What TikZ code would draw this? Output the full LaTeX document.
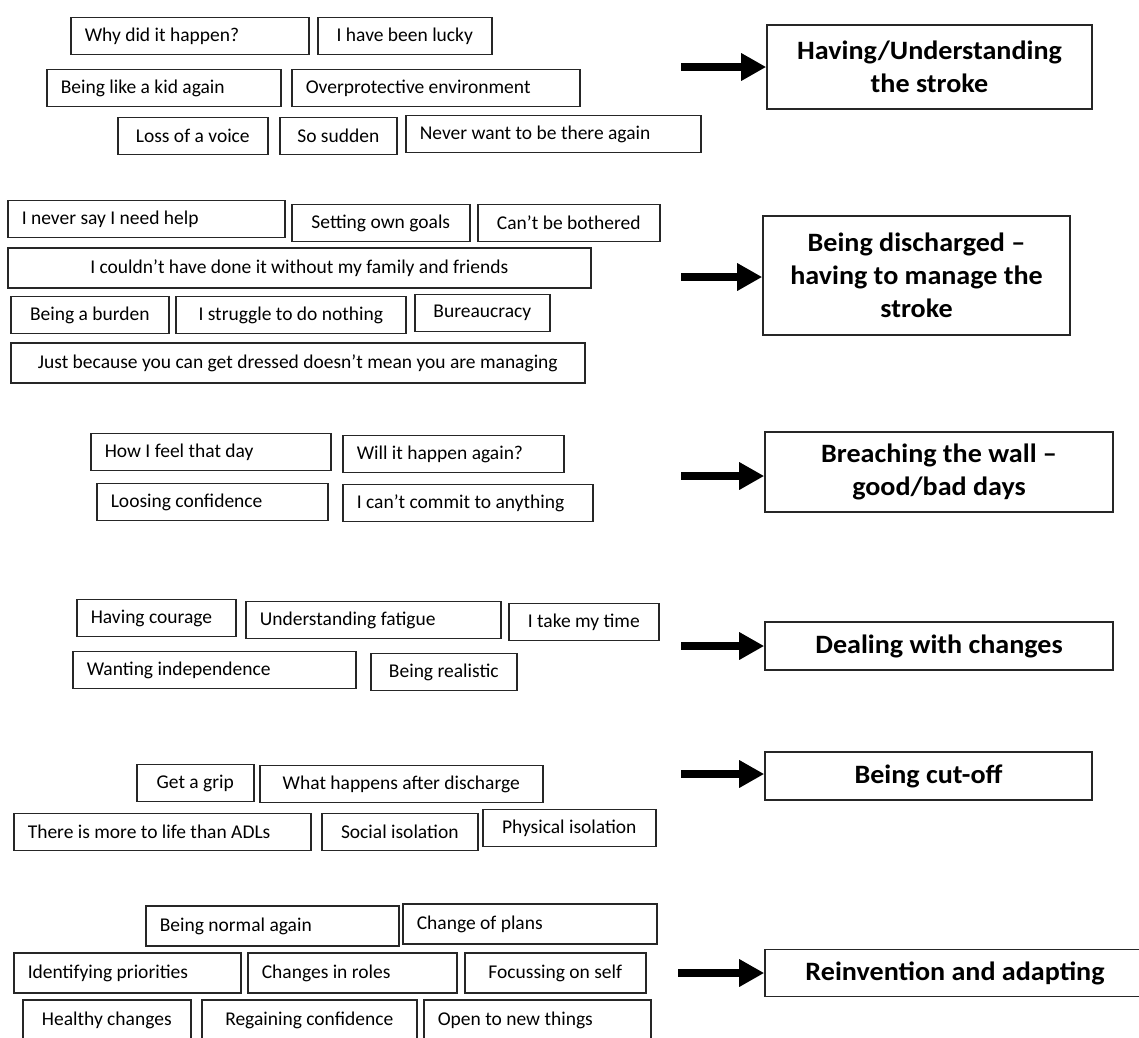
\documentclass[tikz,border=0pt]{standalone}
\usepackage{fontspec}
\setmainfont{Carlito}
\newfontfamily\themefont[FakeStretch=1.06]{Carlito}
\usetikzlibrary{arrows.meta}

\begin{document}
\begin{tikzpicture}[x=1pt,y=-1pt,
    item/.style={draw=black!85, line width=1.6pt, anchor=west, minimum height=37pt, inner xsep=14pt, inner ysep=0pt, align=flush left, font=\fontsize{19.5}{23}\selectfont},
    theme/.style={draw=black!85, line width=1.6pt, align=center, inner sep=0pt, font=\themefont\fontsize{26.5}{33}\selectfont\bfseries},
    push/.style={line width=8pt, -{Triangle[length=25pt,width=26pt]}}]
      \useasboundingbox (0,0) rectangle (1139,1037);

      \node[item, text width=210] (why) at (70,36) {Why did it happen?};
      \node[item, minimum width=174] (lucky) at (317,36) {I have been lucky};
      \node[item, text width=206] (kid) at (46,88) {Being like a kid again};
      \node[item, text width=260] (overprot) at (291,88) {Overprotective environment};
      \node[item, minimum width=150] (voice) at (117,136) {Loss of a voice};
      \node[item, minimum width=117] (sudden) at (279,136) {So sudden};
      \node[item, text width=267] (never) at (405,134) {Never want to be there again};
      \node[theme, minimum width=325, minimum height=84] (t1) at (929.5,67) {Having/Understanding\\the stroke};

      \node[item, text width=249] (help) at (7,219) {I never say I need help};
      \node[item, minimum width=178] (goals) at (291,223) {Setting own goals};
      \node[item, minimum width=182] (bothered) at (477,223) {Can’t be bothered};
      \node[item, minimum width=583, minimum height=40] (family) at (7,268) {I couldn’t have done it without my family and friends};
      \node[item, minimum width=158] (burden) at (10,315) {Being a burden};
      \node[item, minimum width=230] (struggle) at (175,315) {I struggle to do nothing};
      \node[item, minimum width=135] (bureau) at (414,313) {Bureaucracy};
      \node[item, minimum width=574, minimum height=40] (dressed) at (10,363) {Just because you can get dressed doesn’t mean you are managing};
      \node[theme, minimum width=307, minimum height=119] (t2) at (916.5,275.5) {Being discharged –\\having to manage the\\stroke};

      \node[item, text width=212] (feel) at (90,452) {How I feel that day};
      \node[item, text width=193] (again) at (342,454) {Will it happen again?};
      \node[item, text width=203] (losing) at (96,502) {Loosing confidence};
      \node[item, text width=222] (commit) at (342,503) {I can’t commit to anything};
      \node[theme, minimum width=348, minimum height=80] (t3) at (939,472) {Breaching the wall –\\good/bad days};

      \node[item, text width=131] (courage) at (76,618) {Having courage};
      \node[item, text width=227] (fatigue) at (245,620) {Understanding fatigue};
      \node[item, minimum width=150] (time) at (508,622) {I take my time};
      \node[item, text width=255] (indep) at (72,670) {Wanting independence};
      \node[item, minimum width=146] (realistic) at (370,672) {Being realistic};
      \node[theme, minimum width=348, minimum height=48] (t4) at (939,646) {Dealing with changes};

      \node[item, minimum width=117] (grip) at (136,783) {Get a grip};
      \node[item, minimum width=283] (after) at (259,784) {What happens after discharge};
      \node[item, text width=269] (adls) at (13,832) {There is more to life than ADLs};
      \node[item, minimum width=156] (social) at (321,832) {Social isolation};
      \node[item, minimum width=173] (physical) at (482,828) {Physical isolation};
      \node[theme, minimum width=327, minimum height=48] (t5) at (928.5,776) {Being cut-off};

      \node[item, text width=225, minimum height=40] (normal) at (145,926) {Being normal again};
      \node[item, text width=226, minimum height=40] (plans) at (402,924) {Change of plans};
      \node[item, text width=199, minimum height=40] (priorities) at (13,973) {Identifying priorities};
      \node[item, text width=181, minimum height=40] (roles) at (247,973) {Changes in roles};
      \node[item, minimum width=181, minimum height=40] (self) at (464,973) {Focussing on self};
      \node[item, minimum width=168, minimum height=40] (healthy) at (22,1020) {Healthy changes};
      \node[item, minimum width=215, minimum height=40] (regaining) at (201,1020) {Regaining confidence};
      \node[item, text width=199, minimum height=40] (newthings) at (423,1020) {Open to new things};
      \node[theme, minimum width=380, minimum height=47] (t6) at (955,973) {Reinvention and adapting};

      \coordinate (a1) at (681,67);
      \coordinate (a2) at (681,277);
      \coordinate (a3) at (681,476);
      \coordinate (a4) at (681,646);
      \coordinate (a5) at (681,774);
      \coordinate (a6) at (678,973);
      \draw[push] (a1) -- (a1 -| t1.west);
      \draw[push] (a2) -- (a2 -| t2.west);
      \draw[push] (a3) -- (a3 -| t3.west);
      \draw[push] (a4) -- (a4 -| t4.west);
      \draw[push] (a5) -- (a5 -| t5.west);
      \draw[push] (a6) -- (a6 -| t6.west);
    \end{tikzpicture}
\end{document}
